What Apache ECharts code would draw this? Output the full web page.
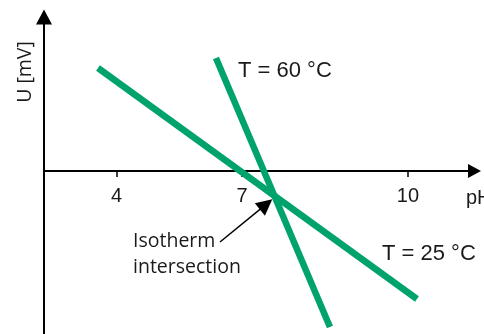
<!DOCTYPE html>
<html>
<head>
<meta charset="utf-8">
<script src="https://cdn.jsdelivr.net/npm/echarts@6/dist/echarts.min.js"></script>
<style>
  html, body { margin: 0; padding: 0; background: #fff; }
  #main { width: 484px; height: 334px; }
</style>
</head>
<body>
<div id="main"></div>
<script>
// pH positions of the ticks as drawn, and the text printed under them
const phTicks = [4, 6.58, 10];
const phTickLabels = ['4', '7', '10'];

// schematic electrode lines, [pH, U in mV]
const line25 = [[3.615, 103], [10.185, -128]];
const line60 = [[6.045, 113], [8.393, -156]];

// arrow pointing at the isotherm intersection
const isoArrow = [[6.128, -71], [7.077, -33.4]];

const green = '#00a36b';

var chartDom = document.getElementById('main');
var myChart = echarts.init(chartDom);
var option = {
  animation: false,
  backgroundColor: '#fff',
  grid: { left: 44, right: 9.5, top: 17, bottom: 0, containLabel: false, outerBoundsMode: 'none' },
  xAxis: {
    type: 'value',
    min: 2.503,
    max: 11.37,
    position: 'bottom',
    // sits on U = 0 (163 px above the bottom edge)
    offset: -163,
    splitLine: { show: false },
    axisLine: {
      onZero: false,
      symbol: ['none', 'triangle'],
      symbolSize: [14, 13],
      lineStyle: { color: '#000', width: 2 }
    },
    axisTick: {
      customValues: phTicks,
      length: 6,
      lineStyle: { color: '#000', width: 1.5 }
    },
    axisLabel: {
      customValues: phTicks,
      margin: 15,
      color: '#1a1a1a',
      fontFamily: 'Liberation Sans',
      fontSize: 20,
      formatter: function (v) {
        var i = phTicks.indexOf(v);
        return i < 0 ? '' : phTickLabels[i];
      }
    }
  },
  yAxis: {
    type: 'value',
    min: -163,
    max: 154,
    splitLine: { show: false },
    axisTick: { show: false },
    axisLabel: { show: false },
    axisLine: {
      onZero: false,
      symbol: ['none', 'triangle'],
      symbolSize: [16, 15],
      lineStyle: { color: '#000', width: 2 }
    }
  },
  graphic: [
    { type: 'text', x: 238, y: 71, style: { text: 'T = 60 °C', font: '22px "Liberation Sans"', fill: '#1a1a1a', textVerticalAlign: 'middle' } },
    { type: 'text', x: 382, y: 254, style: { text: 'T = 25 °C', font: '22px "Liberation Sans"', fill: '#1a1a1a', textVerticalAlign: 'middle' } },
    { type: 'text', x: 133, y: 254, style: { text: 'Isotherm\nintersection', font: '19.5px "Open Sans"', lineHeight: 26, fill: '#1a1a1a', textVerticalAlign: 'middle' } },
    { type: 'text', x: 466, y: 198, style: { text: 'pH', font: '20px "Liberation Sans"', fill: '#1a1a1a', textVerticalAlign: 'middle' } },
    { type: 'text', x: 25.5, y: 72, rotation: Math.PI / 2, style: { text: 'U [mV]', font: '19.5px "Open Sans"', fill: '#1a1a1a', textAlign: 'center', textVerticalAlign: 'middle' } }
  ],
  series: [
    {
      name: 'T = 25 °C',
      type: 'line',
      data: line25,
      symbol: 'none',
      lineStyle: { color: green, width: 6.5, cap: 'butt' },
      markLine: {
        silent: true,
        symbol: ['none', 'triangle'],
        symbolSize: 16,
        label: { show: false },
        lineStyle: { color: '#000', width: 1.5, type: 'solid' },
        data: [[{ coord: isoArrow[0] }, { coord: isoArrow[1] }]]
      }
    },
    {
      name: 'T = 60 °C',
      type: 'line',
      data: line60,
      symbol: 'none',
      lineStyle: { color: green, width: 6.5, cap: 'butt' }
    }
  ]
};
myChart.setOption(option);
</script>
</body>
</html>
